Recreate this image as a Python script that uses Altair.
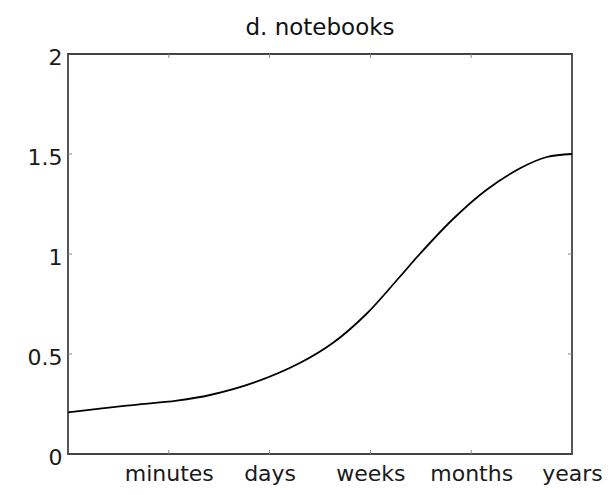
import altair as alt
import pandas as pd

# Curve (x: 0..5 time scale index, y: value)
curve_x = [0, 0.58, 1.08, 1.41, 1.85, 2.3, 2.63, 2.96, 3.29, 3.49, 3.82, 4.15, 4.49, 4.75, 5]
curve_y = [0.208, 0.242, 0.267, 0.295, 0.358, 0.455, 0.556, 0.70, 0.885, 1.0, 1.175, 1.32, 1.43, 1.485, 1.50]

x_tick_values = [1, 2, 3, 4, 5]
x_tick_labels = ["minutes", "days", "weeks", "months", "years"]
y_tick_values = [0, 0.5, 1, 1.5, 2]

title_text = "d. notebooks"
FONT = "DejaVu Sans"

W, H = 504, 400

curve = pd.DataFrame({"x": curve_x, "y": curve_y})
xticks = pd.DataFrame({"x": x_tick_values[:-1]})
yticks = pd.DataFrame({"y": y_tick_values[1:-1]})

label_map = "{" + ",".join(f"'{v}':'{l}'" for v, l in zip(x_tick_values, x_tick_labels)) + "}"

xscale = alt.Scale(domain=[0, 5], nice=False, zero=False)
yscale = alt.Scale(domain=[0, 2], nice=False, zero=False)

xaxis = alt.Axis(
    values=x_tick_values,
    labelExpr=f"{label_map}[datum.value]",
    title=None, grid=False, domain=False, ticks=False,
    labelFont=FONT, labelFontSize=22, labelColor="#1a1a1a",
    labelPadding=9, labelOverlap=False, labelFlush=False,
)
yaxis = alt.Axis(
    values=y_tick_values, format="~g",
    title=None, grid=False, domain=False, ticks=False,
    labelFont=FONT, labelFontSize=22, labelColor="#1a1a1a",
    labelPadding=6, labelOffset=3, labelOverlap=False, labelFlush=False,
)

line = alt.Chart(curve).mark_line(color="black", strokeWidth=1.8, interpolate="catmull-rom").encode(
    x=alt.X("x:Q", scale=xscale, axis=xaxis),
    y=alt.Y("y:Q", scale=yscale, axis=yaxis),
)

tick_color = "#888888"
bottom_ticks = alt.Chart(xticks).mark_rule(color=tick_color, strokeWidth=1).encode(
    x=alt.X("x:Q", scale=xscale), y=alt.value(H), y2=alt.value(H - 4)
)
top_ticks = alt.Chart(xticks).mark_rule(color=tick_color, strokeWidth=1).encode(
    x=alt.X("x:Q", scale=xscale), y=alt.value(0), y2=alt.value(4)
)
left_ticks = alt.Chart(yticks).mark_rule(color=tick_color, strokeWidth=1).encode(
    y=alt.Y("y:Q", scale=yscale), x=alt.value(0), x2=alt.value(4)
)
right_ticks = alt.Chart(yticks).mark_rule(color=tick_color, strokeWidth=1).encode(
    y=alt.Y("y:Q", scale=yscale), x=alt.value(W), x2=alt.value(W - 4)
)

chart = (
    alt.layer(bottom_ticks, top_ticks, left_ticks, right_ticks, line)
    .properties(
        width=W, height=H,
        title=alt.TitleParams(
            title_text, font=FONT, fontSize=23, fontWeight="normal", color="#111111",
            anchor="middle", offset=6,
        ),
        autosize=alt.AutoSizeParams(type="none"),
        padding={"left": 60, "top": 46, "right": 31, "bottom": 34},
        background="white",
    )
    .configure_view(stroke="#444444", strokeWidth=1.8)
)

chart.save("out.html", embed_options={"renderer": "svg", "actions": False})
